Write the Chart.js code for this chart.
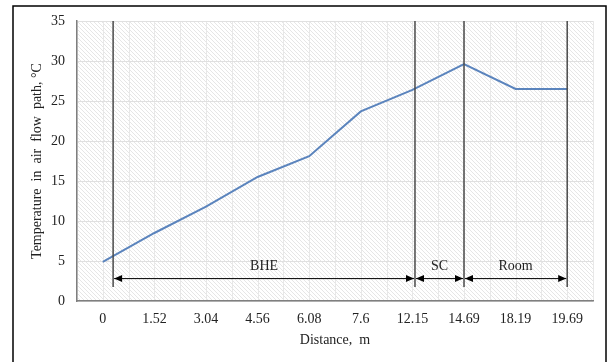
<!DOCTYPE html>
<html>
<head>
<meta charset="utf-8">
<script src="https://cdn.jsdelivr.net/npm/chart.js@4/dist/chart.umd.min.js"></script>
<style>
  html, body { margin: 0; padding: 0; background: #fff; }
  #wrap { width: 608px; height: 362px; }
</style>
</head>
<body>
<div id="wrap"><canvas id="graphCanvas" width="608" height="362"></canvas></div>
<script>
// データ
const distances = ["0", "1.52", "3.04", "4.56", "6.08", "7.6", "12.15", "14.69", "18.19", "19.69"];
const temperatures = [4.9, 8.5, 11.8, 15.5, 18.1, 23.7, 26.4, 29.6, 26.5, 26.5];
const yTicks = [0, 5, 10, 15, 20, 25, 30, 35];

// 区間 (カテゴリ位置) とラベル
const sectionBounds = [0.2, 6.05, 7, 9];
const sectionLabels = ["BHE", "SC", "Room"];
const markerTop = 35;
const markerBottom = 1.75;
const arrowLevel = 2.8;
const labelLevel = 4.3;

const FONT = "'Liberation Serif', 'Times New Roman', serif";

// 斜線パターン
const makeHatch = () => {
  const c = document.createElement("canvas");
  c.width = 4;
  c.height = 4;
  const g = c.getContext("2d");
  g.fillStyle = "#ffffff";
  g.fillRect(0, 0, 4, 4);
  g.strokeStyle = "#e6e6e6";
  g.lineWidth = 1;
  g.beginPath();
  g.moveTo(0, 0);
  g.lineTo(4, 4);
  g.moveTo(-1, 3);
  g.lineTo(1, 5);
  g.moveTo(3, -1);
  g.lineTo(5, 1);
  g.stroke();
  return g.createPattern(c, "repeat");
};

const backgroundPlugin = {
  id: "background",
  beforeDraw(chart) {
    const { ctx, chartArea: a, scales } = chart;
    ctx.save();
    ctx.fillStyle = makeHatch();
    ctx.fillRect(a.left, a.top, a.right - a.left, a.bottom - a.top);
    // 縦グリッド (中心と境界)
    ctx.strokeStyle = "#e8e8e8";
    ctx.lineWidth = 1;
    for (let i = 0; i <= distances.length * 2; i++) {
      const x = Math.round(scales.x.getPixelForValue(i / 2 - 0.5)) + 0.5;
      ctx.beginPath();
      ctx.moveTo(x, a.top);
      ctx.lineTo(x, a.bottom);
      ctx.stroke();
    }
    ctx.restore();
  },
  afterDraw(chart) {
    const ctx = chart.ctx;
    ctx.save();
    ctx.strokeStyle = "#000";
    ctx.lineWidth = 1.5;
    ctx.strokeRect(13, 6, 593, 420);
    ctx.restore();
  },
};

const arrowHead = (ctx, x, y, dir) => {
  ctx.beginPath();
  ctx.moveTo(x, y);
  ctx.lineTo(x - dir * 8, y - 3.5);
  ctx.lineTo(x - dir * 8, y + 3.5);
  ctx.closePath();
  ctx.fill();
};

const sectionPlugin = {
  id: "sections",
  afterDatasetsDraw(chart) {
    const { ctx, scales } = chart;
    const xs = sectionBounds.map((v) => scales.x.getPixelForValue(v));
    const yTop = scales.y.getPixelForValue(markerTop);
    const yBot = scales.y.getPixelForValue(markerBottom);
    const yArrow = scales.y.getPixelForValue(arrowLevel);
    const yLabel = scales.y.getPixelForValue(labelLevel);
    ctx.save();
    ctx.strokeStyle = "#4a4a4a";
    ctx.lineWidth = 1.5;
    xs.forEach((x) => {
      ctx.beginPath();
      ctx.moveTo(x, yTop);
      ctx.lineTo(x, yBot);
      ctx.stroke();
    });
    ctx.strokeStyle = "#000";
    ctx.fillStyle = "#222";
    ctx.lineWidth = 1;
    ctx.font = "14px " + FONT;
    ctx.textAlign = "center";
    ctx.textBaseline = "middle";
    for (let i = 0; i < sectionLabels.length; i++) {
      const x1 = xs[i] + 1;
      const x2 = xs[i + 1] - 1;
      ctx.beginPath();
      ctx.moveTo(x1, yArrow);
      ctx.lineTo(x2, yArrow);
      ctx.stroke();
      ctx.fillStyle = "#000";
      arrowHead(ctx, x1, yArrow, -1);
      arrowHead(ctx, x2, yArrow, 1);
      ctx.fillStyle = "#222";
      ctx.fillText(sectionLabels[i], (xs[i] + xs[i + 1]) / 2, yLabel);
    }
    ctx.restore();
  },
};

const ctx = document.getElementById("graphCanvas").getContext("2d");
const data = {
  labels: distances,
  datasets: [
    {
      data: temperatures,
      borderColor: "#5b84bd",
      borderWidth: 2,
      pointRadius: 0,
      fill: false,
      tension: 0,
    },
  ],
};
const options = {
  responsive: false,
  animation: false,
  layout: { padding: { left: 0, right: 15, top: 21, bottom: 0 } },
  plugins: {
    legend: { display: false },
    tooltip: { enabled: false },
  },
  scales: {
    x: {
      type: "category",
      offset: true,
      grid: { display: false, drawTicks: false },
      border: { display: true, color: "#7f7f7f", width: 1.5 },
      ticks: {
        color: "#222",
        padding: 10,
        maxRotation: 0,
        autoSkip: false,
        font: { family: FONT, size: 14 },
      },
      title: {
        display: true,
        text: "Distance,  m",
        color: "#222",
        padding: { top: 0, bottom: 13 },
        font: { family: FONT, size: 14 },
      },
      afterFit: (scale) => {
        scale.height = 61;
      },
    },
    y: {
      min: 0,
      max: 35,
      afterBuildTicks: (scale) => {
        scale.ticks = yTicks.map((v) => ({ value: v }));
      },
      grid: { color: "#e0e0e0", drawTicks: false },
      border: { display: true, color: "#7f7f7f", width: 1.5 },
      ticks: {
        color: "#222",
        padding: 12,
        font: { family: FONT, size: 14 },
      },
      title: {
        display: true,
        text: "Temperature  in  air  flow  path, °C",
        color: "#222",
        padding: { top: 29, bottom: 0 },
        font: { family: FONT, size: 14 },
      },
      afterFit: (scale) => {
        scale.width = 77;
      },
    },
  },
};
new Chart(ctx, {
  type: "line",
  data: data,
  options: options,
  plugins: [backgroundPlugin, sectionPlugin],
});
</script>
</body>
</html>
